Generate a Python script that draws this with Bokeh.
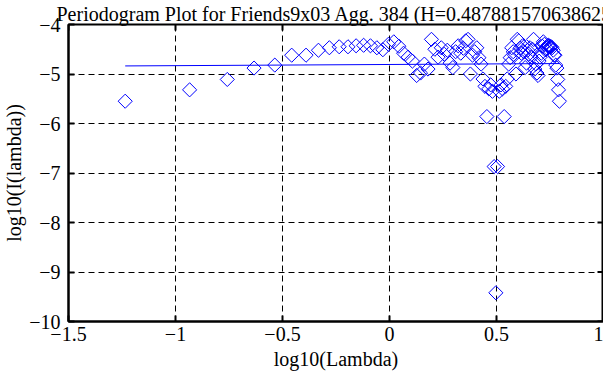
import math
from bokeh.plotting import figure
from bokeh.models import Range1d
from bokeh.embed import file_html
from bokeh.resources import INLINE

# log10 of the Fourier frequencies (k = 1 .. 107)
log_lambda = [
    -1.235, -0.934, -0.758, -0.633, -0.536, -0.457, -0.390, -0.332, -0.281, -0.235,
    -0.194, -0.156, -0.121, -0.089, -0.059, -0.031, -0.005, 0.020, 0.044, 0.066,
    0.087, 0.107, 0.127, 0.145, 0.163, 0.180, 0.196, 0.212, 0.227, 0.242,
    0.256, 0.270, 0.283, 0.296, 0.309, 0.321, 0.333, 0.345, 0.356, 0.367,
    0.378, 0.388, 0.398, 0.408, 0.418, 0.428, 0.437, 0.446, 0.455, 0.464,
    0.473, 0.481, 0.489, 0.497, 0.505, 0.513, 0.521, 0.528, 0.536, 0.543,
    0.550, 0.557, 0.564, 0.571, 0.578, 0.584, 0.591, 0.597, 0.604, 0.610,
    0.616, 0.622, 0.628, 0.634, 0.640, 0.646, 0.651, 0.657, 0.662, 0.668,
    0.673, 0.679, 0.684, 0.689, 0.694, 0.699, 0.704, 0.709, 0.714, 0.719,
    0.724, 0.728, 0.733, 0.738, 0.742, 0.747, 0.751, 0.756, 0.760, 0.765,
    0.769, 0.773, 0.777, 0.782, 0.786, 0.790, 0.794,
]

# log10 of the periodogram values
log_I = [
    -5.55, -5.32, -5.11, -4.88, -4.82, -4.62, -4.62, -4.52, -4.47, -4.45,
    -4.45, -4.43, -4.42, -4.43, -4.47, -4.51, -4.40, -4.35, -4.44, -4.58,
    -4.66, -4.74, -5.03, -4.98, -4.80, -4.90, -4.30, -4.50, -4.66, -4.47,
    -4.60, -4.52, -4.78, -4.87, -4.55, -4.43, -4.58, -4.48, -4.33, -4.30,
    -5.00, -4.62, -4.55, -4.47, -4.67, -4.80, -5.10, -5.25, -5.86, -5.30,
    -5.22, -5.35, -6.87, -9.42, -6.87, -5.35, -5.22, -5.30, -5.86, -5.25,
    -5.10, -4.80, -4.67, -4.47, -4.55, -4.62, -5.00, -4.30, -4.33, -4.48,
    -4.58, -4.43, -4.55, -4.87, -4.78, -4.52, -4.60, -4.47, -4.66, -4.50,
    -4.30, -4.90, -4.80, -4.98, -5.03, -4.74, -4.66, -4.58, -4.44, -4.35,
    -4.40, -4.51, -4.47, -4.43, -4.42, -4.43, -4.45, -4.45, -4.47, -4.52,
    -4.62, -4.62, -4.82, -4.88, -5.11, -5.32, -5.55,
]

# fitted regression line (end points)
fit_x = [-1.235, 0.794]
fit_y = [-4.837, -4.789]

title_text = "Periodogram Plot for Friends9x03 Agg. 384 (H=0.487881570638625)"
x_label = "log10(Lambda)"
y_label = "log10(I(lambda))"
x_ticks = [-1.5, -1, -0.5, 0, 0.5, 1]
x_tick_labels = ["\u22121.5", "\u22121", "\u22120.5", "0", "0.5", "1"]
y_ticks = [-10, -9, -8, -7, -6, -5, -4]
y_tick_labels = ["\u221210", "\u22129", "\u22128", "\u22127", "\u22126", "\u22125", "\u22124"]
x_min, x_max = -1.5, 1
y_min, y_max = -10, -4

FONT = "Liberation Serif"
FS = "20px"

p = figure(width=603, height=377,
           x_range=Range1d(x_min, x_max), y_range=Range1d(y_min, y_max),
           output_backend="svg", toolbar_location=None,
           min_border_left=63, min_border_right=0,
           min_border_top=22, min_border_bottom=56)
p.background_fill_color = "white"
p.border_fill_color = "white"
p.outline_line_color = "black"
p.outline_line_width = 2

p.title.text = title_text
p.title.align = "left"
p.title.offset = -12
p.title.text_font = FONT
p.title.text_font_size = FS
p.title.text_font_style = "normal"
p.title.text_color = "black"
p.title.standoff = 0

# grid
p.grid.grid_line_color = "black"
p.grid.grid_line_dash = "6 4"
p.grid.grid_line_width = 1
p.xgrid.ticker = x_ticks
p.ygrid.ticker = y_ticks


def style_axis(ax, ticks, labels):
    ax.ticker = ticks
    ax.major_label_overrides = {t: l for t, l in zip(ticks, labels)}
    ax.axis_line_color = "black"
    ax.axis_line_width = 2
    ax.major_tick_in = 6
    ax.major_tick_out = 0
    ax.major_tick_line_width = 2
    ax.minor_tick_line_color = None
    ax.minor_tick_in = 0
    ax.minor_tick_out = 0
    ax.major_label_text_font = FONT
    ax.major_label_text_color = "black"
    ax.major_label_text_font_size = FS
    ax.axis_label_text_font = FONT
    ax.axis_label_text_font_style = "normal"
    ax.axis_label_text_font_size = FS
    ax.axis_label_text_color = "black"


style_axis(p.xaxis[0], x_ticks, x_tick_labels)
p.xaxis[0].axis_label = x_label
p.xaxis[0].major_label_standoff = 5
p.xaxis[0].axis_label_standoff = 4
style_axis(p.yaxis[0], y_ticks, y_tick_labels)
p.yaxis[0].axis_label = y_label
p.yaxis[0].major_label_standoff = 8
p.yaxis[0].axis_label_standoff = 1

# inward tick marks on the top and right edges of the box
p.ray(x=x_ticks, y=[y_max] * len(x_ticks), length=6, length_units="screen",
      angle=-math.pi / 2, line_color="black", line_width=2)
p.ray(x=[x_max] * len(y_ticks), y=y_ticks, length=6, length_units="screen",
      angle=math.pi, line_color="black", line_width=2)

# data
p.scatter(log_lambda, log_I, marker="square", angle=0.785398, size=10,
          fill_color=None, line_color="#0000ff", line_width=1)
p.line(fit_x, fit_y, line_color="#0000ff", line_width=1)

open("out.html", "w").write(file_html(p, INLINE))
